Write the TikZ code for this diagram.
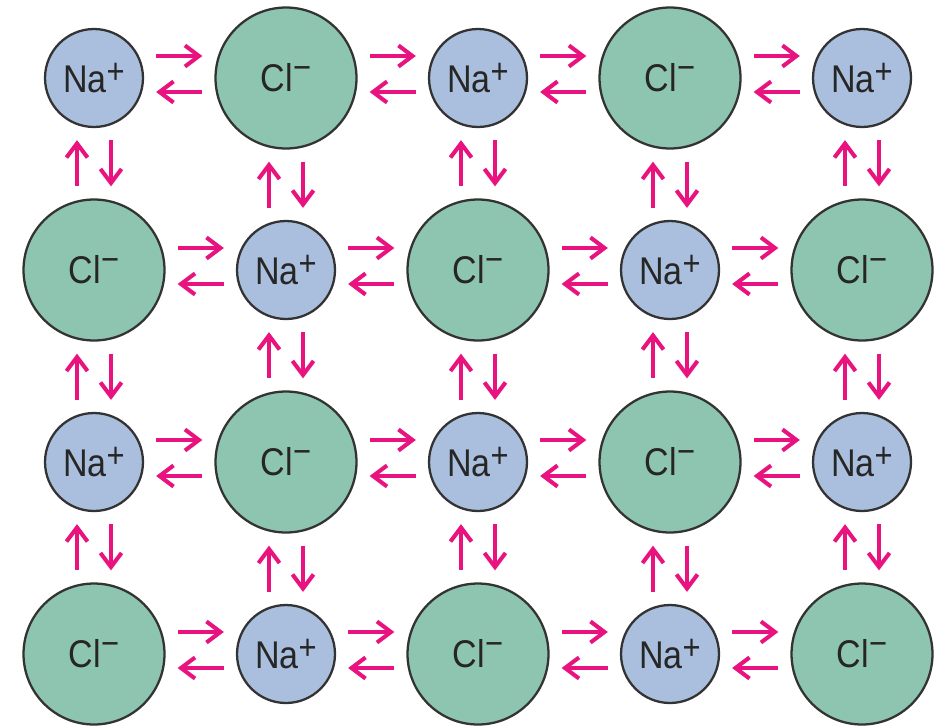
\documentclass[tikz,border=0pt]{standalone}
\usepackage{fontspec}
\setmainfont{Liberation Sans}
\newfontfamily\ionfont[FakeStretch=0.88]{Liberation Sans}
\usetikzlibrary{arrows.meta}
\definecolor{nablue}{HTML}{AABEDD}
\definecolor{clgreen}{HTML}{8DC5B1}
\definecolor{hoppink}{HTML}{E8137F}
\newcommand\ionsup[2]{\raisebox{#1}{\fontsize{20}{20}\selectfont #2}}
\tikzset{
	ion/.style={circle, draw=black!80, line width=1.3pt, inner sep=0pt, text=black!85,
		font=\ionfont\fontsize{22}{26}\selectfont},
	na/.style={ion, fill=nablue, minimum size=1.96cm},
	cl/.style={ion, fill=clgreen, minimum size=2.82cm},
	hop/.style={-{Straight Barb[length=8pt,width=12pt,line width=2.3pt]}, line width=2.3pt, hoppink,
		shorten <=0.24cm, shorten >=0.24cm}
}

\begin{document}
\begin{tikzpicture}[x=0.02cm, y=-0.02cm]
	\useasboundingbox (0, 0) rectangle (945, 727);
	\foreach \j in {0, ..., 3} {
		\foreach \i in {0, ..., 4} {
			\pgfmathtruncatemacro\k{mod(\i+\j, 2)}
			\ifnum\k=0
				\node[na] (n-\i-\j) at (94+192*\i, 78+192*\j) {Na\ionsup{5pt}{+}};
			\else
				\node[cl] (n-\i-\j) at (94+192*\i, 78+192*\j) {Cl\ionsup{7pt}{−}};
			\fi
		}
	}
	\def \s{0.44cm}
	\def \t{0.28cm}
	\def \u{0.34cm}
	\foreach \j in {0, ..., 3} {
		\foreach \i [evaluate=\i as \n using int(\i+1)] in {0, ..., 3} {
			\draw[hop] ([yshift=\s]n-\i-\j.east) -- ([yshift=\s]n-\n-\j.west);
			\draw[hop] ([yshift=-\t]n-\n-\j.west) -- ([yshift=-\t]n-\i-\j.east);
		}
	}
	\foreach \i in {0, ..., 4} {
		\foreach \j [evaluate=\j as \m using int(\j+1)] in {0, ..., 2} {
			\draw[hop] ([xshift=-\u]n-\i-\m.north) -- ([xshift=-\u]n-\i-\j.south);
			\draw[hop] ([xshift=\u]n-\i-\j.south) -- ([xshift=\u]n-\i-\m.north);
		}
	}
\end{tikzpicture}
\end{document}
